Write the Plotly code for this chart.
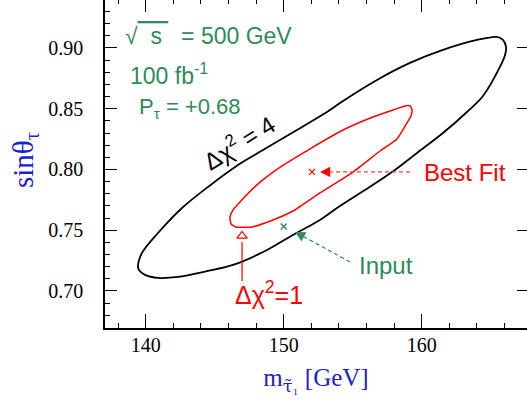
import plotly.graph_objects as go

# ---- data ----
chi4_mass = [139.44, 139.73, 140.89, 142.63, 144.51, 146.69, 148.50, 150.96, 153.36, 154.30,
             156.76, 159.15, 161.54, 164.01, 165.46, 165.89, 166.11, 166.04, 165.67, 164.44,
             163.28, 161.54, 159.66, 157.85, 155.89, 153.86, 152.63, 150.67, 148.79, 146.33,
             144.51, 142.34, 140.89, 139.95, 139.51]
chi4_sin = [0.7198, 0.7313, 0.7477, 0.7683, 0.7856, 0.8037, 0.8160, 0.8325, 0.8490, 0.8564,
            0.8737, 0.8877, 0.8984, 0.9066, 0.9091, 0.9066, 0.9008, 0.8942, 0.8844, 0.8605,
            0.8473, 0.8300, 0.8136, 0.7979, 0.7831, 0.7683, 0.7584, 0.7461, 0.7337, 0.7214,
            0.7165, 0.7115, 0.7107, 0.7132, 0.7173]

chi1_mass = [146.18, 146.11, 146.33, 146.83, 148.14, 149.88, 151.76, 154.30, 156.47, 157.92,
             158.79, 159.15, 159.30, 159.22, 158.93, 158.21, 156.98, 155.02, 152.63, 150.67,
             149.22, 147.70, 146.54]
chi1_sin = [0.7551, 0.7609, 0.7667, 0.7733, 0.7881, 0.8029, 0.8160, 0.8325, 0.8432, 0.8490,
            0.8523, 0.8523, 0.8490, 0.8440, 0.8383, 0.8251, 0.8152, 0.7979, 0.7807, 0.7658,
            0.7584, 0.7527, 0.7527]

best_fit_mass = [152.05]
best_fit_sin = [0.798]
input_mass = [150.0]
input_sin = [0.753]

x_ticks = [140, 150, 160]
y_ticks = [0.70, 0.75, 0.80, 0.85, 0.90]

GREEN = "#2e8b57"
RED = "#ff0000"
BLUE = "#1c1cd0"
SANS = "Liberation Sans, Arial, sans-serif"
SERIF = "Liberation Serif, serif"

fig = go.Figure()

fig.add_trace(go.Scatter(x=chi4_mass + chi4_mass[:1], y=chi4_sin + chi4_sin[:1], mode="lines",
                         line=dict(color="black", width=1.8, shape="spline", smoothing=0.9),
                         showlegend=False, hoverinfo="skip"))
fig.add_trace(go.Scatter(x=chi1_mass + chi1_mass[:1], y=chi1_sin + chi1_sin[:1], mode="lines",
                         line=dict(color=RED, width=1.5, shape="spline", smoothing=0.5),
                         showlegend=False, hoverinfo="skip"))

fig.add_trace(go.Scatter(x=best_fit_mass, y=best_fit_sin, mode="markers",
                         marker=dict(symbol="x-thin-open", size=6, color=RED,
                                     line=dict(color=RED, width=1.3)),
                         showlegend=False, hoverinfo="skip"))
fig.add_trace(go.Scatter(x=input_mass, y=input_sin, mode="markers",
                         marker=dict(symbol="x-thin-open", size=6, color=GREEN,
                                     line=dict(color=GREEN, width=1.3)),
                         showlegend=False, hoverinfo="skip"))

# arrow shafts
fig.add_trace(go.Scatter(x=[159.15, 153.36], y=[0.798, 0.798], mode="lines",
                         line=dict(color="#ff4040", width=1.2, dash="4px,3px"),
                         showlegend=False, hoverinfo="skip"))
fig.add_trace(go.Scatter(x=[154.80, 151.46], y=[0.7239, 0.7446], mode="lines",
                         line=dict(color=GREEN, width=1.2, dash="4px,3px"),
                         showlegend=False, hoverinfo="skip"))
fig.add_trace(go.Scatter(x=[146.98, 146.98], y=[0.7082, 0.7403], mode="lines",
                         line=dict(color=RED, width=1.2),
                         showlegend=False, hoverinfo="skip"))
fig.add_trace(go.Scatter(x=[146.98], y=[0.7453], mode="markers",
                         marker=dict(symbol="triangle-up-open", size=9, color=RED,
                                     line=dict(color=RED, width=1.2)),
                         showlegend=False, hoverinfo="skip"))

# empty trace so that the mirrored tick axes are drawn
fig.add_trace(go.Scatter(x=[], y=[], xaxis="x2", yaxis="y2", showlegend=False, hoverinfo="skip"))

annotations = [
    # arrow heads
    dict(x=152.63, y=0.798, xref="x", yref="y", ax=11, ay=0, text="", showarrow=True,
         arrowhead=2, arrowsize=1.7, arrowwidth=1.2, arrowcolor=RED, standoff=0),
    dict(x=150.82, y=0.7486, xref="x", yref="y", ax=9.7, ay=5.3, text="", showarrow=True,
         arrowhead=2, arrowsize=1.7, arrowwidth=1.2, arrowcolor=GREEN, standoff=0),
    # texts
    dict(x=138.36, y=0.9099, xref="x", yref="y", xanchor="left", yanchor="middle", showarrow=False,
         text="√<span style='text-decoration:overline'>&nbsp;&nbsp;s&nbsp;</span>&nbsp;&nbsp;= 500 GeV",
         font=dict(family=SANS, size=23, color=GREEN)),
    dict(x=138.72, y=0.8786, xref="x", yref="y", xanchor="left", yanchor="middle", showarrow=False,
         text="100 fb<sup>-1</sup>", font=dict(family=SANS, size=23, color=GREEN)),
    dict(x=139.37, y=0.8510, xref="x", yref="y", xanchor="left", yanchor="middle", showarrow=False,
         text="P<sub>τ</sub> = +0.68", font=dict(family=SANS, size=22, color=GREEN)),
    dict(x=160.02, y=0.7975, xref="x", yref="y", xanchor="left", yanchor="middle", showarrow=False,
         text="Best Fit", font=dict(family=SANS, size=24, color=RED)),
    dict(x=155.31, y=0.7206, xref="x", yref="y", xanchor="left", yanchor="middle", showarrow=False,
         text="Input", font=dict(family=SANS, size=24, color=GREEN)),
    dict(x=146.33, y=0.6984, xref="x", yref="y", xanchor="left", yanchor="middle", showarrow=False,
         text="Δχ<sup>2</sup>=1", font=dict(family=SANS, size=25, color=RED)),
    dict(x=146.70, y=0.8230, xref="x", yref="y", xanchor="center", yanchor="middle", showarrow=False,
         text="Δχ<sup>2</sup> = 4", textangle=-32, font=dict(family=SANS, size=24, color="black")),
    # y axis title
    dict(x=-80 / 422, y=(328 - 160) / 328, xref="paper", yref="paper", xanchor="center", yanchor="middle",
         showarrow=False, textangle=-90, text="sinθ<sub>τ</sub>",
         font=dict(family=SERIF, size=29, color=BLUE)),
]

fig.update_layout(
    width=527, height=402,
    margin=dict(l=105, r=0, t=0, b=74, pad=0),
    plot_bgcolor="white", paper_bgcolor="white",
    showlegend=False,
    annotations=annotations,
    xaxis=dict(range=[137.05, 167.63], tickvals=x_ticks, ticks="inside", ticklen=14, tickwidth=1,
               tickcolor="black", showline=True, linecolor="black", linewidth=1.5,
               showgrid=False, zeroline=False, ticklabelstandoff=-2,
               tickfont=dict(family="Liberation Serif, serif", size=20, color="black"),
               minor=dict(dtick=2, tick0=140, ticks="inside", ticklen=5, tickwidth=1, tickcolor="black",
                          showgrid=False),
               title=dict(text="m<sub><span style='font-family:DejaVu Serif'>τ̃</span>₁</sub> [GeV]",
                          standoff=14, font=dict(family=SERIF, size=25, color=BLUE))),
    yaxis=dict(range=[0.6695, 0.9395], tickvals=y_ticks, tickformat=".2f", ticks="inside", ticklen=12,
               tickwidth=1, tickcolor="black", showline=True, linecolor="black", linewidth=1.5,
               showgrid=False, zeroline=False, ticklabelstandoff=16,
               tickfont=dict(family="Liberation Serif, serif", size=20, color="black"),
               minor=dict(dtick=0.01, tick0=0.70, ticks="inside", ticklen=5, tickwidth=1, tickcolor="black",
                          showgrid=False)),
    xaxis2=dict(matches="x", overlaying="x", side="top", tickvals=x_ticks, ticks="inside", ticklen=12,
                tickwidth=1, tickcolor="black", showticklabels=False, showline=False, showgrid=False,
                zeroline=False,
                minor=dict(dtick=2, tick0=140, ticks="inside", ticklen=4, tickwidth=1, tickcolor="black",
                           showgrid=False)),
    yaxis2=dict(matches="y", overlaying="y", side="right", tickvals=y_ticks, ticks="inside", ticklen=10,
                tickwidth=1, tickcolor="black", showticklabels=False, showline=False, showgrid=False,
                zeroline=False),
)

fig.write_html("out.html", config={"displayModeBar": False},
               post_script="document.body.style.margin='0';")
